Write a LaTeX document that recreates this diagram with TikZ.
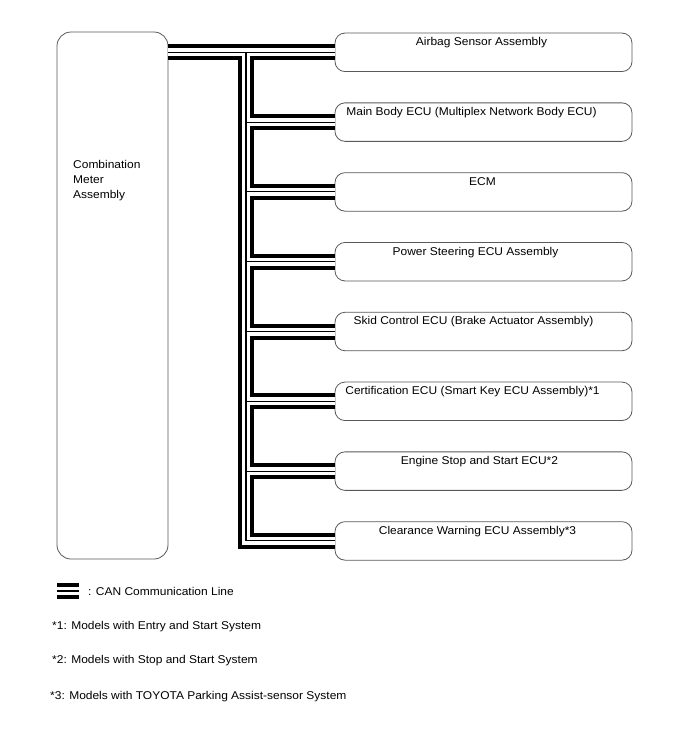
\documentclass[tikz,border=0pt]{standalone}
\usepackage{fontspec}
\setmainfont{Liberation Sans}[FakeStretch=1.06]
\usepackage{tikz}
\usepackage{xcolor}

\tikzset{
  ecu/.style={draw=black!65, line width=0.8pt, rounded corners=10pt, minimum width=297pt, minimum height=38.5pt, inner sep=0pt},
  ecutext/.style={anchor=base, inner sep=0pt},
  canouter/.style={line width=16pt, black, line join=miter},
  canwhite/.style={line width=8pt, white, line join=miter},
  caninner/.style={line width=1.1pt, black, line join=miter},
}
% the CAN bus: drawn three times so the junctions merge
\newcommand{\canbus}{
  (meter.east |- airbag.west) -- (airbag.west)
  (busx |- airbag.west) -- (busx |- clearance.west) -- (clearance.west)
  (busx |- mainbody.west) -- (mainbody.west)
  (busx |- ecm.west) -- (ecm.west)
  (busx |- steering.west) -- (steering.west)
  (busx |- skid.west) -- (skid.west)
  (busx |- certif.west) -- (certif.west)
  (busx |- engine.west) -- (engine.west)
  (legendA) -- (legendB)
}

\begin{document}
\begin{tikzpicture}[x=1pt, y=-1pt, font=\fontsize{11.3}{12.3}\selectfont]
\useasboundingbox (0,0) rectangle (688,755);

\node[draw=black!65, line width=0.8pt, rounded corners=14pt, minimum width=111pt, minimum height=527pt, inner sep=0pt] (meter) at (112.5,295.5) {};
\node[anchor=north west, inner sep=0pt, align=left, font=\fontsize{11.3}{15}\selectfont] (metertext) at (73,160) {Combination\\Meter\\Assembly};

\node[ecu] (airbag) at (483.5,52.3) {};
\node[ecu] (mainbody) at (483.5,122.1) {};
\node[ecu] (ecm) at (483.5,191.9) {};
\node[ecu] (steering) at (483.5,261.7) {};
\node[ecu] (skid) at (483.5,331.5) {};
\node[ecu] (certif) at (483.5,401.3) {};
\node[ecu] (engine) at (483.5,471.1) {};
\node[ecu] (clearance) at (483.5,540.9) {};

\coordinate (busx) at (246,0);
\coordinate (legendA) at (57,591);
\coordinate (legendB) at (79,591);

\draw[canouter] \canbus;
\draw[canwhite] \canbus;
\draw[caninner] \canbus;

% labels sit near the top of each box
\node[ecutext] at ([xshift=-2pt,yshift=-13pt]airbag.north) {Airbag Sensor Assembly};
\node[ecutext] at ([xshift=-12pt,yshift=-13pt]mainbody.north) {Main Body ECU (Multiplex Network Body ECU)};
\node[ecutext] at ([xshift=-1pt,yshift=-13pt]ecm.north) {ECM};
\node[ecutext] at ([xshift=-8pt,yshift=-13pt]steering.north) {Power Steering ECU Assembly};
\node[ecutext] at ([xshift=-10pt,yshift=-13pt]skid.north) {Skid Control ECU (Brake Actuator Assembly)};
\node[ecutext] at ([xshift=-11pt,yshift=-13pt]certif.north) {Certification ECU (Smart Key ECU Assembly)*1};
\node[ecutext] at ([xshift=-4pt,yshift=-13pt]engine.north) {Engine Stop and Start ECU*2};
\node[ecutext] at ([xshift=-6pt,yshift=-13pt]clearance.north) {Clearance Warning ECU Assembly*3};

\node[anchor=west, inner sep=0pt] (legend) at (88,591) {: CAN Communication Line};
\node[anchor=west, inner sep=0pt] (note1) at (52,627) {*1: Models with Entry and Start System};
\node[anchor=west, inner sep=0pt] (note2) at (52,661) {*2: Models with Stop and Start System};
\node[anchor=west, inner sep=0pt] (note3) at (50,697) {*3: Models with TOYOTA Parking Assist-sensor System};
\end{tikzpicture}
\end{document}
